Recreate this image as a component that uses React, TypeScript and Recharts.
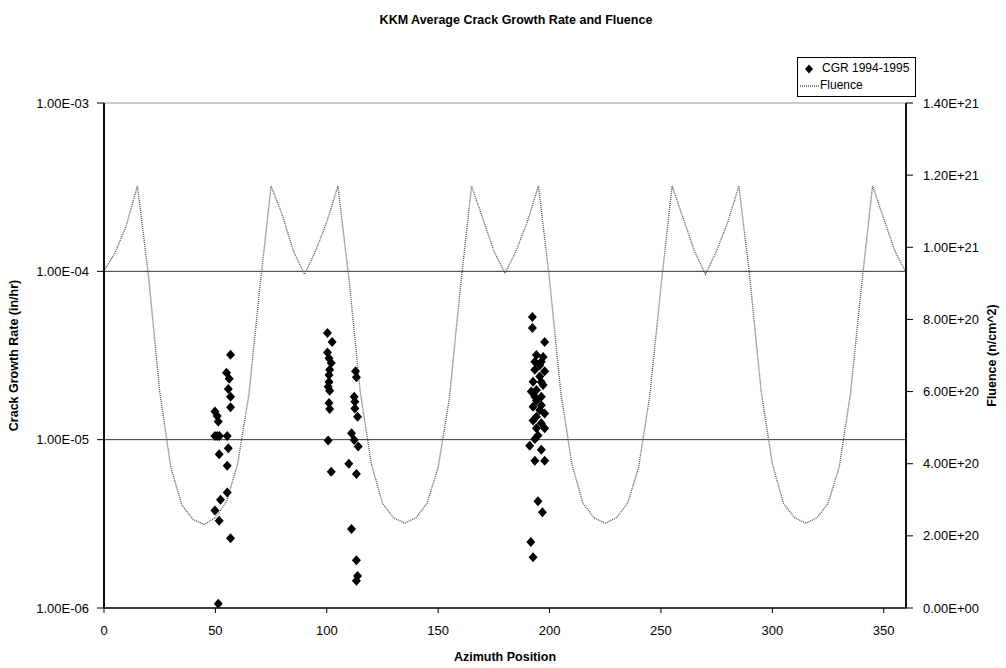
import React from 'react';
import {
  ComposedChart,
  Scatter,
  Line,
  XAxis,
  YAxis,
  ReferenceLine,
} from 'recharts';

// Fluence profile, read every 5 degrees (n/cm^2)
const fluenceAzimuth = [
  0, 5, 10, 15, 20, 25, 30, 35, 40, 45, 50, 55, 60, 65, 70, 75, 80, 85, 90,
  95, 100, 105, 110, 115, 120, 125, 130, 135, 140, 145, 150, 155, 160, 165, 170, 175, 180,
  185, 190, 195, 200, 205, 210, 215, 220, 225, 230, 235, 240, 245, 250, 255, 260, 265, 270,
  275, 280, 285, 290, 295, 300, 305, 310, 315, 320, 325, 330, 335, 340, 345, 350, 355, 360,
];
const fluenceValue = [
  0.935e21, 0.985e21, 1.06e21, 1.17e21, 0.92e21, 0.6e21, 0.39e21, 0.285e21, 0.245e21, 0.232e21,
  0.25e21, 0.295e21, 0.4e21, 0.59e21, 0.89e21, 1.17e21, 1.09e21, 0.99e21, 0.925e21,
  0.99e21, 1.07e21, 1.17e21, 0.91e21, 0.6e21, 0.4e21, 0.29e21, 0.25e21, 0.235e21,
  0.25e21, 0.29e21, 0.39e21, 0.58e21, 0.89e21, 1.17e21, 1.08e21, 0.99e21, 0.928e21,
  0.99e21, 1.07e21, 1.17e21, 0.91e21, 0.6e21, 0.4e21, 0.29e21, 0.25e21, 0.235e21,
  0.25e21, 0.29e21, 0.39e21, 0.59e21, 0.89e21, 1.17e21, 1.08e21, 0.99e21, 0.925e21,
  0.99e21, 1.07e21, 1.17e21, 0.91e21, 0.6e21, 0.4e21, 0.29e21, 0.25e21, 0.235e21,
  0.25e21, 0.29e21, 0.39e21, 0.59e21, 0.89e21, 1.17e21, 1.08e21, 0.99e21, 0.93e21,
];

// CGR 1994-1995 measurements (in/hr)
const cgrAzimuth = [
  56.8, 55.0, 56.2, 55.8, 56.8, 56.8, 49.8, 50.8, 51.3, 49.8, 50.8, 51.8, 55.3, 51.7, 55.8, 55.3,
  55.3, 52.3, 49.8, 51.7, 56.8, 51.3,
  100.3, 102.4, 100.3, 101.0, 102.0, 101.3, 101.0, 101.0, 100.6, 101.3, 101.0, 101.3, 100.6, 102.0,
  112.9, 113.3, 112.3, 112.6, 112.6, 113.8, 111.1, 112.3, 114.1, 109.9, 113.3, 111.1, 113.3, 113.8, 113.3,
  192.3, 192.3, 197.8, 194.1, 197.1, 195.6, 193.4, 197.8, 195.6, 192.6, 197.1, 194.1, 191.8, 196.3,
  194.1, 192.6, 195.6, 197.8, 194.1, 196.3, 194.1, 197.8, 194.8, 193.4, 196.3, 193.4, 196.3, 193.4,
  196.3, 192.6, 191.1, 196.3, 193.4, 197.8, 194.8, 196.8, 191.6, 192.6,
];
const cgrRate = [
  3.2e-5, 2.5e-5, 2.3e-5, 2.0e-5, 1.8e-5, 1.56e-5, 1.47e-5, 1.38e-5, 1.28e-5, 1.05e-5, 1.05e-5, 1.05e-5,
  1.05e-5, 8.2e-6, 8.9e-6, 7.0e-6, 4.85e-6, 4.4e-6, 3.8e-6, 3.3e-6, 2.6e-6, 1.06e-6,
  4.3e-5, 3.8e-5, 3.3e-5, 3.05e-5, 2.85e-5, 2.6e-5, 2.42e-5, 2.2e-5, 2.06e-5, 1.95e-5, 1.65e-5, 1.52e-5,
  9.9e-6, 6.45e-6,
  2.55e-5, 2.35e-5, 1.8e-5, 1.68e-5, 1.53e-5, 1.37e-5, 1.09e-5, 9.95e-6, 9.1e-6, 7.2e-6, 6.25e-6,
  2.95e-6, 1.92e-6, 1.55e-6, 1.45e-6,
  5.35e-5, 4.6e-5, 3.8e-5, 3.18e-5, 3.1e-5, 2.77e-5, 2.6e-5, 2.55e-5, 2.37e-5, 2.21e-5, 2.11e-5,
  1.97e-5, 1.93e-5, 1.8e-5, 1.71e-5, 1.57e-5, 1.5e-5, 1.43e-5, 1.37e-5, 1.25e-5, 1.17e-5, 1.17e-5,
  1.06e-5, 1.01e-5, 2.9e-5, 2.9e-5, 2.2e-5, 1.8e-5, 1.6e-5, 1.3e-5, 9.2e-6, 8.7e-6, 7.5e-6, 7.5e-6,
  4.3e-6, 3.7e-6, 2.47e-6, 2.0e-6,
];

const xTicks = [0, 50, 100, 150, 200, 250, 300, 350];
const cgrTicks = [1e-6, 1e-5, 1e-4, 1e-3];
const fluenceTicks = [0, 2e20, 4e20, 6e20, 8e20, 1e21, 1.2e21, 1.4e21];

const FONT = '"Liberation Sans", Arial, sans-serif';

// Excel style "1.00E-03"
const sci = (v: number) => {
  const [m, e] = v.toExponential(2).toUpperCase().split('E');
  const sign = e.startsWith('-') ? '-' : '+';
  const digits = e.replace(/[+-]/, '').padStart(2, '0');
  return `${m}E${sign}${digits}`;
};

const fluenceData = fluenceAzimuth.map((deg, i) => ({ deg, fluence: fluenceValue[i] }));
const cgrData = cgrAzimuth.map((deg, i) => ({ deg, cgr: cgrRate[i] }));

const Diamond = (props: any) => {
  const { cx, cy } = props;
  if (cx == null || cy == null) return null;
  return (
    <path
      d={`M${cx},${cy - 5}L${cx + 4.5},${cy}L${cx},${cy + 5}L${cx - 4.5},${cy}Z`}
      fill="#000"
    />
  );
};

const tickStyle = { fontSize: 13, fill: '#000', fontFamily: FONT };
const titleStyle = { fontSize: 12.5, fontWeight: 'bold', fill: '#000', fontFamily: FONT };
const axisLine = { stroke: '#000', strokeWidth: 1.5 };

export default function App() {
  return (
    <div style={{ position: 'absolute', left: 0, top: 0, width: 1006, height: 668, background: '#fff', fontFamily: FONT }}>
      <div
        style={{
          position: 'absolute', left: 0, width: 1006, top: 13, textAlign: 'center',
          fontSize: 12.5, fontWeight: 'bold', paddingLeft: 26, boxSizing: 'border-box',
        }}
      >
        KKM Average Crack Growth Rate and Fluence
      </div>

      {/* legend */}
      <div
        style={{
          position: 'absolute', left: 797, top: 57, width: 119, height: 40,
          border: '1px solid #000', fontSize: 12, lineHeight: '17px', paddingTop: 2, boxSizing: 'border-box',
        }}
      >
        <div style={{ display: 'flex', alignItems: 'center' }}>
          <svg width={24} height={12}>
            <path d="M11,1.5L15,6L11,10.5L7,6Z" fill="#000" />
          </svg>
          <span>CGR 1994-1995</span>
        </div>
        <div style={{ display: 'flex', alignItems: 'center' }}>
          <svg width={22} height={12}>
            <line x1={2} y1={6} x2={21} y2={6} stroke="#5a5a5a" strokeWidth={1.4} strokeDasharray="1 1" />
          </svg>
          <span>Fluence</span>
        </div>
      </div>

      <ComposedChart
        width={1006}
        height={668}
        margin={{ top: 103, right: 0, bottom: 0, left: 0 }}
        style={{ position: 'absolute', left: 0, top: 0 }}
      >
        <ReferenceLine yAxisId="cgr" y={1e-3} stroke="#9a9a9a" />
        <ReferenceLine yAxisId="cgr" y={1e-4} stroke="#333" />
        <ReferenceLine yAxisId="cgr" y={1e-5} stroke="#333" />
        {/* plot frame: left and right axis lines */}
        <ReferenceLine yAxisId="cgr" x={0} stroke="#000" strokeWidth={1.5} />
        <ReferenceLine yAxisId="cgr" x={360} stroke="#000" strokeWidth={1.5} />
        <XAxis
          dataKey="deg"
          type="number"
          domain={[0, 360]}
          ticks={xTicks}
          allowDataOverflow
          height={60}
          axisLine={axisLine}
          tickLine={{ stroke: '#000' }}
          tickSize={5}
          tickMargin={13}
          tick={tickStyle}
          label={{ value: 'Azimuth Position', position: 'insideBottom', offset: 7, style: titleStyle }}
        />
        <YAxis
          yAxisId="cgr"
          scale="log"
          domain={[1e-6, 1e-3]}
          ticks={cgrTicks}
          allowDataOverflow
          width={104}
          axisLine={axisLine}
          tickLine={{ stroke: '#000' }}
          tickSize={7}
          tickMargin={8}
          tick={tickStyle}
          tickFormatter={sci}
          label={{ value: 'Crack Growth Rate (in/hr)', angle: -90, position: 'insideLeft', offset: 14, style: { ...titleStyle, textAnchor: 'middle' } }}
        />
        <YAxis
          yAxisId="fl"
          orientation="right"
          domain={[0, 1.4e21]}
          ticks={fluenceTicks}
          allowDataOverflow
          width={100}
          axisLine={axisLine}
          tickLine={{ stroke: '#000' }}
          tickSize={7}
          tickMargin={10}
          tick={tickStyle}
          tickFormatter={sci}
          label={{ value: 'Fluence (n/cm^2)', angle: -90, position: 'insideRight', offset: 14, style: { ...titleStyle, textAnchor: 'middle' } }}
        />
        <Line
          yAxisId="fl"
          data={fluenceData}
          dataKey="fluence"
          type="linear"
          stroke="#5a5a5a"
          strokeWidth={1.4}
          strokeDasharray="1 1"
          dot={false}
          activeDot={false}
          isAnimationActive={false}
        />
        <Scatter
          yAxisId="cgr"
          data={cgrData}
          dataKey="cgr"
          shape={<Diamond />}
          isAnimationActive={false}
        />
      </ComposedChart>
    </div>
  );
}
